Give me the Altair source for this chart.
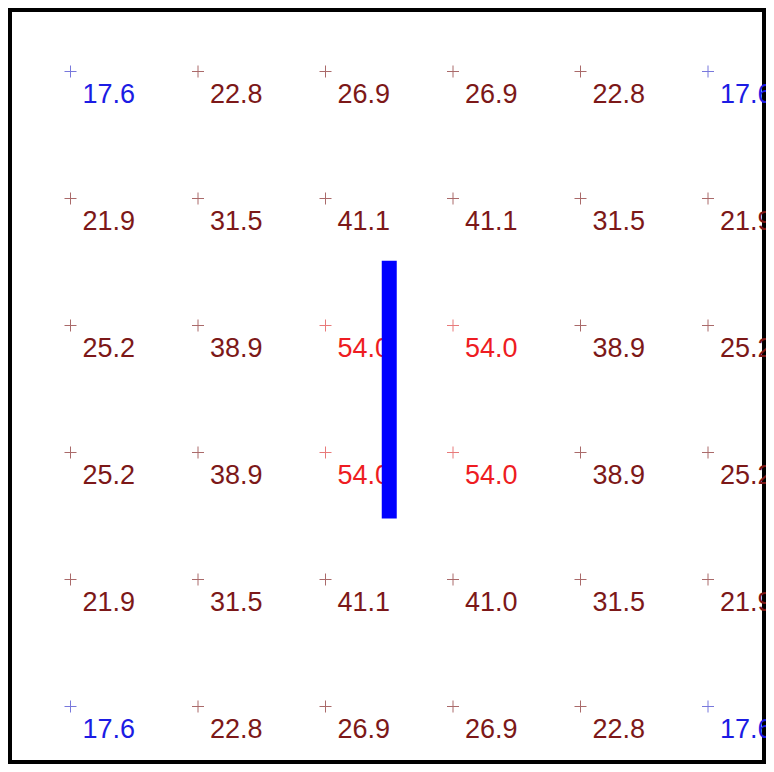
import altair as alt
import pandas as pd

# grid values (rows top to bottom, columns left to right)
row0 = [17.6, 22.8, 26.9, 26.9, 22.8, 17.6]
row1 = [21.9, 31.5, 41.1, 41.1, 31.5, 21.9]
row2 = [25.2, 38.9, 54.0, 54.0, 38.9, 25.2]
row3 = [25.2, 38.9, 54.0, 54.0, 38.9, 25.2]
row4 = [21.9, 31.5, 41.1, 41.0, 31.5, 21.9]
row5 = [17.6, 22.8, 26.9, 26.9, 22.8, 17.6]
rows = [row0, row1, row2, row3, row4, row5]

levels = ["low", "mid", "high"]
text_colors = ["#1c1ce4", "#7c1818", "#ee1c22"]
marker_colors = ["#7878dc", "#aa6a6a", "#e87a7a"]

# vertical bar segment (in grid units)
bar_x = [2.5]
bar_y1 = [1.49]
bar_y2 = [3.52]

records = []
for r, vals in enumerate(rows):
    for c, v in enumerate(vals):
        lvl = "low" if v < 20 else ("high" if v > 50 else "mid")
        records.append({"col": c, "row": r, "value": v, "label": f"{v:.1f}", "level": lvl})
df = pd.DataFrame(records)
bar_df = pd.DataFrame({"x": bar_x, "y1": bar_y1, "y2": bar_y2})

W, H = 758, 756
xs = alt.Scale(domain=[-62.5 / 127.5, (W - 62.5) / 127.5], nice=False, zero=False)
ys = alt.Scale(domain=[(H - 63.5) / 127, -63.5 / 127], nice=False, zero=False)

X = alt.X("col:Q", scale=xs, axis=None)
Y = alt.Y("row:Q", scale=ys, axis=None)

markers = alt.Chart(df).mark_point(
    shape="M-1,0L1,0M0,-1L0,1", size=144, filled=False, strokeWidth=1, opacity=1
).encode(
    x=X, y=Y,
    stroke=alt.Stroke("level:N", scale=alt.Scale(domain=levels, range=marker_colors), legend=None),
)

labels = alt.Chart(df).mark_text(
    align="left", baseline="alphabetic", dx=12, dy=31, font="Liberation Sans", fontSize=27, clip=True
).encode(
    x=X, y=Y, text="label:N",
    fill=alt.Fill("level:N", scale=alt.Scale(domain=levels, range=text_colors), legend=None),
)

bar = alt.Chart(bar_df).mark_rule(color="#0000ff", strokeWidth=15, strokeCap="butt").encode(
    x=alt.X("x:Q", scale=xs, axis=None),
    y=alt.Y("y1:Q", scale=ys, axis=None),
    y2="y2:Q",
)

chart = alt.layer(markers, labels, bar).resolve_scale(
    stroke="independent", fill="independent"
).properties(
    width=W, height=H,
    padding={"left": 0, "top": 0, "right": 0, "bottom": 0},
    autosize=alt.AutoSizeParams(type="none"),
).configure_view(stroke="black", strokeWidth=8, fill="white")

chart.save("out.html", embed_options={"renderer": "svg", "actions": False})
